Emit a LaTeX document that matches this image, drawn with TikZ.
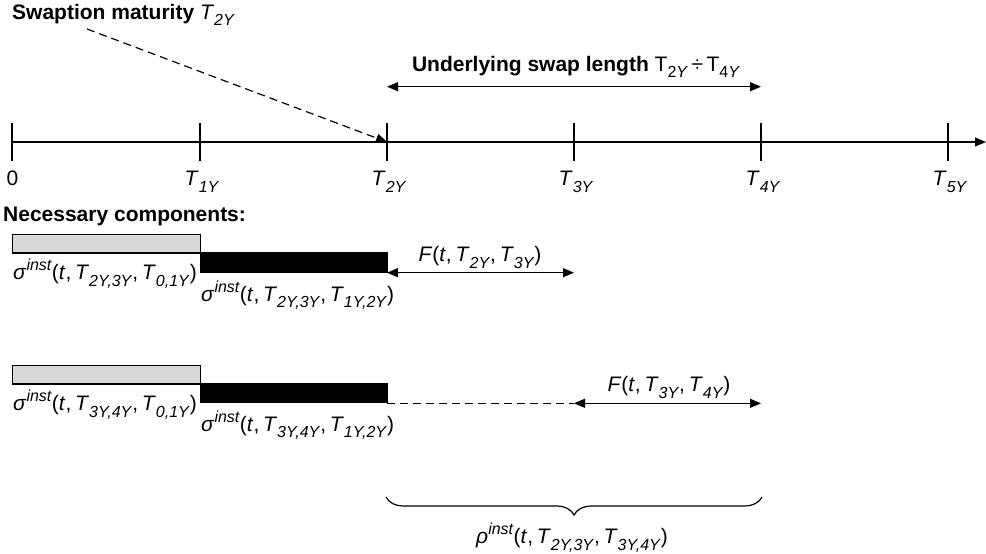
\documentclass[tikz,border=0pt]{standalone}
\usepackage{fontspec}
\setmainfont{Liberation Sans}
\usetikzlibrary{arrows.meta,decorations.pathreplacing}
\newcommand\lo[1]{\raisebox{-0.3em}{\fontsize{16}{16}\selectfont #1}}
\newcommand\hi[1]{\raisebox{0.45em}{\fontsize{16}{16}\selectfont #1}}
\newcommand\ti[1]{\textit{#1}}
\newcommand\cm{,\hspace{0.18em}}
\begin{document}
\begin{tikzpicture}[x=1pt,y=1pt,
  txt/.style={font=\fontsize{21}{25}\selectfont, inner sep=0pt},
  lbl/.style={txt, anchor=base},
  lbll/.style={txt, anchor=base west},
  thin line/.style={line width=1.2pt},
  tip/.style={-{Triangle[length=11pt,width=9pt]}},
  dtip/.style={{Triangle[length=11pt,width=9pt]}-{Triangle[length=11pt,width=9pt]}},
  dashline/.style={line width=1.2pt, dash pattern=on 8pt off 5pt},
  greybox/.style={draw, line width=1.2pt, fill={rgb,255:red,217;green,217;blue,217}},
  blackbox/.style={draw, line width=1.2pt, fill=black}
]
\useasboundingbox (0,0) rectangle (986,554);

% axis coordinates
\coordinate (a0) at (12,412);
\coordinate (aend) at (986,412);
\foreach \n/\x in {0/12,1/200,2/387,3/574,4/761,5/948}{
  \coordinate (t\n) at (\x,412);
  \coordinate (tt\n) at (\x,431);
  \coordinate (tb\n) at (\x,393);
  \draw[thin line] (tt\n) -- (tb\n);
}
\draw[thin line, tip] (a0) -- (aend);

% axis labels
\node[lbl] (l0) at (12.5,368) {0};
\node[lbl] (l1) at (202,368) {\ti{T}\lo{\ti{1Y}}};
\node[lbl] (l2) at (389,368) {\ti{T}\lo{\ti{2Y}}};
\node[lbl] (l3) at (576,368) {\ti{T}\lo{\ti{3Y}}};
\node[lbl] (l4) at (763,368) {\ti{T}\lo{\ti{4Y}}};
\node[lbl] (l5) at (950,368) {\ti{T}\lo{\ti{5Y}}};

% title and dashed arrow
\node[lbll] (title) at (12,534.5) {\textbf{Swaption maturity} \ti{T}\lo{\ti{2Y}}};
\coordinate (dstart) at (87,525);
\draw[dashline, tip] (dstart) -- (t2);

% swap length
\node[lbl] (swaplbl) at (576,482.3) {\textbf{Underlying swap length} T\lo{2\ti{Y}}\,÷\,T\lo{4\ti{Y}}};
\coordinate (s1) at (387,467.3);
\coordinate (s2) at (761,467.3);
\draw[thin line, dtip] (s1) -- (s2);

% necessary components
\node[lbll] (nec) at (3,332) {\textbf{Necessary components:}};

% row 1
\node[greybox, minimum width=188pt, minimum height=18.4pt, anchor=south west, inner sep=0pt] (g1) at (12,300.3) {};
\node[blackbox, minimum width=187pt, minimum height=19pt, anchor=south west, inner sep=0pt] (b1) at (200,281.3) {};
\node[lbll] (s1l) at (13,274) {\ti{σ}\hi{\ti{inst}}(\ti{t}\cm\ti{T}\lo{\ti{2Y,3Y}}\cm\ti{T}\lo{\ti{0,1Y}})};
\node[lbll] (s2l) at (201,252.3) {\ti{σ}\hi{\ti{inst}}(\ti{t}\cm\ti{T}\lo{\ti{2Y,3Y}}\cm\ti{T}\lo{\ti{1Y,2Y}})};
\coordinate (f1a) at (387,281.3);
\coordinate (f1b) at (574,281.3);
\draw[thin line, dtip] (f1a) -- (f1b);
\node[lbl] (f1l) at (480,292) {\ti{F}(\ti{t}\cm\ti{T}\lo{\ti{2Y}}\cm\ti{T}\lo{\ti{3Y}})};

% row 2
\node[greybox, minimum width=188pt, minimum height=18.7pt, anchor=south west, inner sep=0pt] (g2) at (12,169.3) {};
\node[blackbox, minimum width=187pt, minimum height=18.6pt, anchor=south west, inner sep=0pt] (b2) at (200,150.7) {};
\node[lbll] (s3l) at (13,143) {\ti{σ}\hi{\ti{inst}}(\ti{t}\cm\ti{T}\lo{\ti{3Y,4Y}}\cm\ti{T}\lo{\ti{0,1Y}})};
\node[lbll] (s4l) at (201,122.3) {\ti{σ}\hi{\ti{inst}}(\ti{t}\cm\ti{T}\lo{\ti{3Y,4Y}}\cm\ti{T}\lo{\ti{1Y,2Y}})};
\coordinate (d2a) at (387,150.7);
\coordinate (f2a) at (574,150.7);
\coordinate (f2b) at (761,150.7);
\draw[dashline] (d2a) -- (f2a);
\draw[thin line, dtip] (f2a) -- (f2b);
\node[lbl] (f2l) at (669,162) {\ti{F}(\ti{t}\cm\ti{T}\lo{\ti{3Y}}\cm\ti{T}\lo{\ti{4Y}})};

% brace
\coordinate (br1) at (386,57);
\coordinate (br2) at (762,57);
\draw[thin line, decorate, decoration={brace, mirror, amplitude=18pt}] (br1) -- (br2);
\node[lbl] (rho) at (572,10) {\ti{ρ}\hi{\ti{inst}}(\ti{t}\cm\ti{T}\lo{\ti{2Y,3Y}}\cm\ti{T}\lo{\ti{3Y,4Y}})};
\end{tikzpicture}
\end{document}
